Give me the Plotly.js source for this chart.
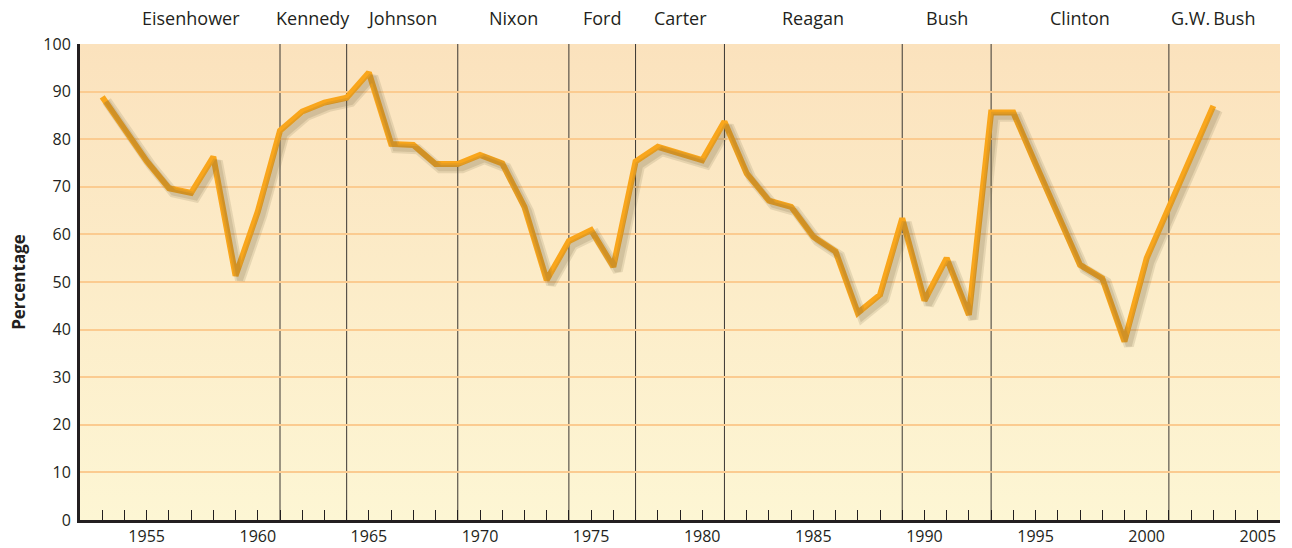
<!DOCTYPE html>
<html>
<head>
<meta charset="utf-8">
<script src="https://cdn.plot.ly/plotly-3.0.1.min.js"></script>
<style>html,body{margin:0;padding:0;background:#fff}#chart{width:1292px;height:548px}</style>
</head>
<body>
<div id="chart"></div>
<script>
const years = [1953,1954,1955,1956,1957,1958,1959,1960,1961,1962,1963,1964,1965,1966,1967,1968,1969,1970,1971,1972,1973,1974,1975,1976,1977,1978,1979,1980,1981,1982,1983,1984,1985,1986,1987,1988,1989,1990,1991,1992,1993,1994,1995,1996,1997,1998,1999,2000,2001,2002,2003];
const percentage = [88.9,82.0,75.4,69.7,68.7,76.3,51.3,64.8,81.8,85.8,87.7,88.7,94.0,79.0,78.8,74.8,74.8,76.7,74.9,65.8,50.4,58.6,60.9,53.2,75.3,78.4,77.0,75.6,83.7,72.8,67.1,65.8,59.5,56.4,43.5,47.3,63.4,46.1,55.0,43.1,85.6,85.6,74.8,64.2,53.6,50.8,37.5,55.0,65.8,76.4,87.0];
const presidents = ["Eisenhower","Kennedy","Johnson","Nixon","Ford","Carter","Reagan","Bush","Clinton","G.W.\u2009Bush"];
const termStart = [1953,1961,1964,1969,1974,1977,1981,1989,1993,2001];
const termEnd   = [1961,1964,1969,1974,1977,1981,1989,1993,2001,2005];
const yTicks = [0,10,20,30,40,50,60,70,80,90,100];
const xTicks = [1955,1960,1965,1970,1975,1980,1985,1990,1995,2000,2005];

const font = "'Open Sans', 'Noto Sans', sans-serif";
const xr = [1952, 2006], yr = [0, 100];
// shadow offset through a shifted overlay axis
const sx = 0.2, sy = 0.9;

const grad = 'data:image/svg+xml;utf8,' + encodeURIComponent(
 '<svg xmlns="http://www.w3.org/2000/svg" width="100" height="100" preserveAspectRatio="none">' +
 '<defs><linearGradient id="g" x1="0" y1="0" x2="0" y2="1">' +
 '<stop offset="0" stop-color="#FBE2BD"/><stop offset="1" stop-color="#FDF6D4"/>' +
 '</linearGradient></defs><rect width="100" height="100" fill="url(#g)"/></svg>');

const shapes = termStart.slice(1).map(x => ({
  type: 'line', xref: 'x', yref: 'paper', x0: x, x1: x, y0: 0, y1: 1,
  line: {color: '#3a3632', width: 1}, layer: 'below'
}));

const annotations = presidents.map((p, i) => ({
  text: p, xref: 'x', yref: 'paper', x: (termStart[i] + termEnd[i]) / 2, y: 1,
  yshift: 26, showarrow: false, xanchor: 'center', yanchor: 'middle',
  font: {family: font, size: 18, color: '#231F20'}
}));

const traces = [
  {x: years, y: percentage, type: 'scatter', mode: 'lines', xaxis: 'x2', yaxis: 'y2',
   line: {color: 'rgba(120,105,70,0.16)', width: 10}, hoverinfo: 'skip', showlegend: false},
  {x: years, y: percentage, type: 'scatter', mode: 'lines', xaxis: 'x2', yaxis: 'y2',
   line: {color: 'rgba(110,95,60,0.17)', width: 6}, hoverinfo: 'skip', showlegend: false},
  {x: years, y: percentage, type: 'scatter', mode: 'lines',
   line: {color: '#F9A61C', width: 6}, showlegend: false}
];

const layout = {
  width: 1292, height: 548,
  margin: {l: 80, r: 12, t: 44, b: 28},
  paper_bgcolor: '#ffffff', plot_bgcolor: 'rgba(0,0,0,0)',
  images: [{source: grad, xref: 'paper', yref: 'paper', x: 0, y: 1, sizex: 1, sizey: 1,
            sizing: 'stretch', xanchor: 'left', yanchor: 'top', layer: 'below'}],
  xaxis: {range: xr, tickvals: xTicks, ticktext: xTicks.map(String),
          ticks: 'inside', ticklen: 10, tickwidth: 1, tickcolor: '#231F20',
          minor: {dtick: 1, tick0: 1952, ticks: 'inside', ticklen: 10, tickwidth: 1, tickcolor: '#231F20', showgrid: false},
          showgrid: false, zeroline: false, showline: true, linecolor: '#231F20', linewidth: 3,
          tickfont: {family: font, size: 16, color: '#231F20'}, fixedrange: true},
  yaxis: {range: yr, tickvals: yTicks, ticks: '', showgrid: true, gridcolor: '#FBCB90', gridwidth: 2,
          zeroline: false, showline: true, linecolor: '#231F20', linewidth: 3,
          tickfont: {family: font, size: 16, color: '#231F20'}, ticklabelstandoff: 3,
          title: {text: '<b>Percentage</b>', font: {family: font, size: 17, color: '#231F20'}, standoff: 14},
          fixedrange: true},
  xaxis2: {range: [xr[0] - sx, xr[1] - sx], overlaying: 'x', visible: false, fixedrange: true},
  yaxis2: {range: [yr[0] + sy, yr[1] + sy], overlaying: 'y', visible: false, fixedrange: true},
  shapes: shapes,
  annotations: annotations
};

Plotly.newPlot('chart', traces, layout, {displayModeBar: false, staticPlot: true});
</script>
</body>
</html>
